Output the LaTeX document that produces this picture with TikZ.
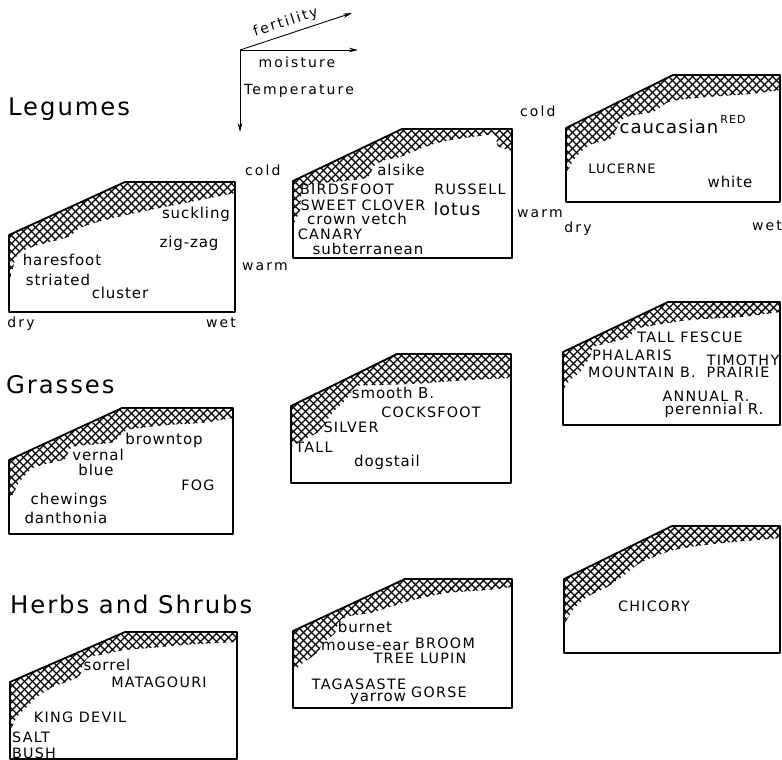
\documentclass[tikz,border=0pt]{standalone}
\usepackage{fontspec}
\setmainfont{DejaVu Sans}
\newfontfamily\hdfont[LetterSpace=8]{DejaVu Sans}
\newfontfamily\axfont[LetterSpace=15]{DejaVu Sans}
\newfontfamily\lcfont[LetterSpace=6]{DejaVu Sans}
\newfontfamily\ucfont[LetterSpace=9]{DejaVu Sans}
\usetikzlibrary{arrows.meta}
\tikzset{
  hd/.style={font=\hdfont\fontsize{24.3}{28}\selectfont, inner sep=0pt, anchor=base west},
  axl/.style={font=\axfont\fontsize{14}{16}\selectfont, inner sep=0pt, anchor=base},
  lcase/.style={font=\lcfont\fontsize{15}{18}\selectfont, inner sep=0pt, anchor=base},
  ucase/.style={font=\ucfont\fontsize{14.3}{16}\selectfont, inner sep=0pt, anchor=base},
  mesh/.style={line width=1.4pt, black},
  panel/.style={line width=1.8pt, line join=round},
  axarrow/.style={line width=0.9pt, -{Stealth[length=9pt,width=4.5pt]}}
}
\newcommand\hatchpanel[7]{%
  \begin{scope}
    \clip plot[smooth,tension=0.5] coordinates {#7} -- (#2,#5) -- (#6,#5) -- (#1,#4) -- cycle;
    \pgfmathsetmacro\mxa{#1-150}\pgfmathsetmacro\mxb{#1-142}\pgfmathsetmacro\mxc{#2+5}
    \foreach \i in {\mxa,\mxb,...,\mxc} \draw[mesh] (\i,#5-3) -- ++(150,150);
    \pgfmathsetmacro\mxa{#1-5}\pgfmathsetmacro\mxb{#1+3}\pgfmathsetmacro\mxc{#2+150}
    \foreach \i in {\mxa,\mxb,...,\mxc} \draw[mesh] (\i,#5-3) -- ++(-150,150);
  \end{scope}
  \draw[panel] (#1,#3) -- (#1,#4) -- (#6,#5) -- (#2,#5) -- (#2,#3) -- cycle;
}
\begin{document}
\begin{tikzpicture}[x=1pt,y=-1pt]
\useasboundingbox[fill=white] (0,0) rectangle (782,760);

% axes key
\coordinate (o) at (240,50);
\coordinate (fe) at (352,13);
\coordinate (mo) at (358,50);
\coordinate (te) at (240,132);
\draw[axarrow] (o) -- (fe);
\draw[axarrow] (o) -- (mo);
\draw[axarrow] (o) -- (te);
\node[axl, rotate=18] (tfert) at (287,26) {fertility};
\node[axl] (tmois) at (297,67) {moisture};
\node[axl, anchor=base west] (ttemp) at (244,95) {Temperature};

% headings
\node[hd] (hleg) at (8,115) {Legumes};
\node[hd] (hgra) at (6,393) {Grasses};
\node[hd] (hher) at (10,613) {Herbs and Shrubs};

% ---------- Legumes ----------
\hatchpanel{9}{235}{312}{235}{182}{125}{(9,283) (13,268) (18,254) (35,246) (68,237) (80,228) (105,220) (150,210) (200,200) (235,193)}
\hatchpanel{293}{512}{258}{181}{129}{402}{(293,225) (300,210) (303,188) (323,183) (353,180) (368,177) (374,166) (385,160) (400,157) (417,150) (437,143) (457,139) (480,136) (495,135) (498,146) (512,151)}
\hatchpanel{566}{780}{202}{128}{75}{673}{(566,173) (576,157) (590,145) (612,138) (617,128) (626,117) (653,112) (662,106) (672,101) (707,97) (750,94) (780,90)}

\node[lcase] (suck) at (196,218) {suckling};
\node[lcase] (zig) at (189,247) {zig-zag};
\node[lcase] (hares) at (62,265) {haresfoot};
\node[lcase] (stri) at (58,285) {striated};
\node[lcase] (clus) at (120,298) {cluster};
\node[axl] (dry1) at (21,327) {dry};
\node[axl] (wet1) at (221,327) {wet};
\node[axl, anchor=base west] (cold1) at (245,175) {cold};
\node[axl, anchor=base west] (warm1) at (242,270) {warm};

\node[lcase] (alsi) at (401,175) {alsike};
\node[ucase] (bird) at (347,194) {BIRDSFOOT};
\node[ucase] (swee) at (363,210) {SWEET CLOVER};
\node[lcase] (crow) at (357,224) {crown vetch};
\node[ucase] (cana) at (330,239) {CANARY};
\node[lcase] (subt) at (368,254) {subterranean};
\node[ucase] (russ) at (470,194) {RUSSELL};
\node[lcase, font=\lcfont\fontsize{17.5}{20}\selectfont] (lotu) at (457,215) {lotus};
\node[axl, anchor=base west] (cold2) at (520,117) {cold};
\node[axl, anchor=base west] (warm2) at (517,217) {warm};

\node[lcase, font=\lcfont\fontsize{18}{20}\selectfont] (cauc) at (669,133) {caucasian};
\node[ucase, font=\ucfont\fontsize{11}{13}\selectfont] (red) at (733,123) {RED};
\node[ucase, font=\ucfont\fontsize{13}{15}\selectfont] (luce) at (622,173) {LUCERNE};
\node[lcase] (whit) at (730,187) {white};
\node[axl] (dry3) at (578,232) {dry};
\node[axl] (wet3) at (767,230) {wet};

% ---------- Grasses ----------
\hatchpanel{9}{233}{534}{460}{408}{122}{(9,503) (15,490) (21,480) (33,468) (50,463) (65,459) (69,450) (76,446) (100,444) (114,442) (120,435) (127,430) (140,428) (167,425) (200,423) (233,418)}
\hatchpanel{291}{511}{483}{406}{354}{397}{(291,447) (303,440) (317,433) (324,425) (330,416) (337,408) (346,400) (351,392) (358,386) (380,385) (410,384) (440,382) (470,380) (511,378)}
\hatchpanel{563}{780}{425}{352}{302}{668}{(563,390) (570,380) (580,372) (590,357) (594,347) (617,341) (630,337) (636,329) (650,326) (690,320) (740,317) (780,312)}

\node[lcase] (brow) at (164,444) {browntop};
\node[lcase] (vern) at (98,460) {vernal};
\node[lcase] (blue) at (96,475) {blue};
\node[ucase] (fog) at (198,490) {FOG};
\node[lcase] (chew) at (69,504) {chewings};
\node[lcase] (dant) at (66,523) {danthonia};

\node[lcase] (smoo) at (393,398) {smooth B.};
\node[ucase] (cock) at (431,417) {COCKSFOOT};
\node[ucase] (silv) at (351,432) {SILVER};
\node[ucase] (tall) at (314,452) {TALL};
\node[lcase] (dogs) at (387,466) {dogstail};

\node[ucase] (fesc) at (690,342) {TALL FESCUE};
\node[ucase] (phal) at (632,360) {PHALARIS};
\node[ucase] (timo) at (743,365) {TIMOTHY};
\node[ucase] (moun) at (642,377) {MOUNTAIN B.};
\node[ucase] (prai) at (738,377) {PRAIRIE};
\node[ucase] (annu) at (706,401) {ANNUAL R.};
\node[lcase] (pere) at (714,414) {perennial R.};

% ---------- Herbs and Shrubs ----------
\hatchpanel{10}{237}{759}{682}{632}{125}{(10,732) (17,717) (27,707) (37,697) (53,687) (72,680) (80,675) (83,665) (89,657) (100,655) (125,650) (150,648) (183,645) (217,643) (237,642)}
\hatchpanel{293}{512}{708}{631}{579}{405}{(293,672) (303,663) (317,653) (323,643) (335,633) (339,621) (350,616) (370,613) (387,608) (413,600) (447,593) (487,590) (512,587)}
\hatchpanel{564}{780}{653}{579}{526}{672}{(565,623) (573,610) (587,597) (607,587) (627,573) (640,563) (667,552) (690,547) (723,543) (757,540) (780,538)}

\node[lcase] (sorr) at (107,670) {sorrel};
\node[ucase] (mata) at (159,687) {MATAGOURI};
\node[ucase] (king) at (80,722) {KING DEVIL};
\node[ucase] (salt) at (31,742) {SALT};
\node[ucase] (bush) at (34,758) {BUSH};

\node[lcase] (burn) at (365,632) {burnet};
\node[lcase] (mous) at (365,650) {mouse-ear};
\node[ucase] (broo) at (445,648) {BROOM};
\node[ucase] (tree) at (420,663) {TREE LUPIN};
\node[ucase] (taga) at (359,689) {TAGASASTE};
\node[lcase] (yarr) at (378,701) {yarrow};
\node[ucase] (gors) at (439,697) {GORSE};

\node[ucase] (chic) at (654,611) {CHICORY};
\end{tikzpicture}
\end{document}
